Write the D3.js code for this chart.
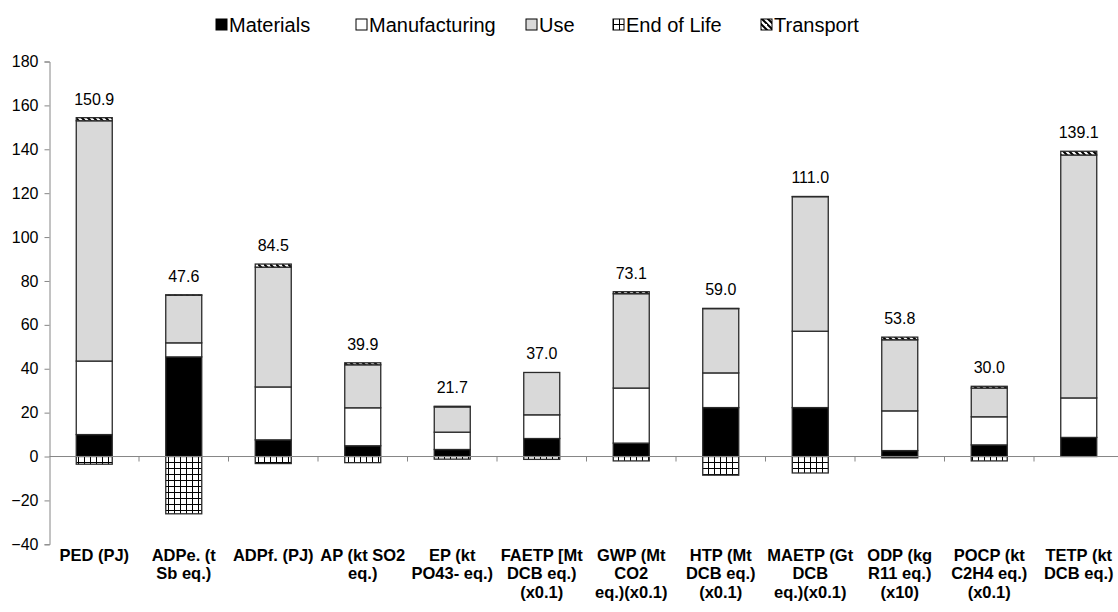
<!DOCTYPE html>
<html>
<head>
<meta charset="utf-8">
<script src="https://cdn.jsdelivr.net/npm/d3@7"></script>
<style>
  html, body { margin: 0; padding: 0; background: #fff; }
  svg { display: block; font-family: Arial, "Liberation Sans", sans-serif; }
</style>
</head>
<body>
<svg id="chart" width="1118" height="612"></svg>
<script>
// Impact categories (multi-line axis labels)
const categories = [
  ["PED (PJ)"],
  ["ADPe. (t", "Sb eq.)"],
  ["ADPf. (PJ)"],
  ["AP (kt SO2", "eq.)"],
  ["EP (kt", "PO43- eq.)"],
  ["FAETP [Mt", "DCB eq.)", "(x0.1)"],
  ["GWP (Mt", "CO2", "eq.)(x0.1)"],
  ["HTP (Mt", "DCB eq.)", "(x0.1)"],
  ["MAETP (Gt", "DCB", "eq.)(x0.1)"],
  ["ODP (kg", "R11 eq.)", "(x10)"],
  ["POCP (kt", "C2H4 eq.)", "(x0.1)"],
  ["TETP (kt", "DCB eq.)"]
];

// Life-cycle stage contributions per category
const materials     = [10.0, 45.4,  7.6,  4.9,  3.2,  8.2,  6.1, 22.3, 22.3,  2.7,  5.3,   8.7];
const manufacturing = [33.5,  6.4, 24.1, 17.3,  7.9, 10.8, 25.1, 15.8, 34.8, 18.1, 12.8,  18.0];
const use           = [109.5, 21.7, 54.6, 19.6, 11.5, 19.3, 43.0, 29.3, 61.3, 32.4, 13.1, 110.7];
const endOfLife     = [-3.5, -26.1, -3.2, -2.8, -1.2, -1.3, -2.0, -8.5, -7.5, -0.6, -2.0,  0.0];
const transport     = [ 1.4,  0.2,  1.4,  0.9,  0.3,  0.0,  0.9,  0.1,  0.1,  1.2,  0.8,   1.7];

const seriesNames = ["Materials", "Manufacturing", "Use", "End of Life", "Transport"];
const yTicks = [-40, -20, 0, 20, 40, 60, 80, 100, 120, 140, 160, 180];

const rows = categories.map((c, i) => ({
  key: c.join(" "),
  "Materials": materials[i],
  "Manufacturing": manufacturing[i],
  "Use": use[i],
  "End of Life": endOfLife[i],
  "Transport": transport[i]
}));

const svg = d3.select("#chart");
const defs = svg.append("defs");

// End of Life: square grid hatch
const grid = defs.append("pattern")
  .attr("id", "pat-grid").attr("patternUnits", "userSpaceOnUse")
  .attr("width", 6).attr("height", 6);
grid.append("rect").attr("width", 6).attr("height", 6).attr("fill", "#fff");
grid.append("path").attr("d", "M0,0.5H6M0.5,0V6").attr("stroke", "#000").attr("stroke-width", 1);

// Transport: downward diagonal stripes
const diag = defs.append("pattern")
  .attr("id", "pat-diag").attr("patternUnits", "userSpaceOnUse")
  .attr("width", 6).attr("height", 6);
diag.append("rect").attr("width", 6).attr("height", 6).attr("fill", "#fff");
diag.append("path").attr("d", "M-1,-1L7,7M-4,2L2,8M4,-4L10,2")
  .attr("stroke", "#000").attr("stroke-width", 2);

const fills = {
  "Materials": "#000000",
  "Manufacturing": "#ffffff",
  "Use": "#d9d9d9",
  "End of Life": "url(#pat-grid)",
  "Transport": "url(#pat-diag)"
};

const x0 = 49.5, step = 89.5;
const x = d3.scaleBand()
  .domain(rows.map(r => r.key))
  .range([x0, x0 + step * categories.length])
  .paddingInner(0.6).paddingOuter(0.3);

const y = d3.scaleLinear().domain([-40, 180]).range([544.3, 61.5]);

// Y axis
const yAxis = svg.append("g")
  .attr("transform", `translate(${x0},0)`)
  .call(d3.axisLeft(y).tickValues(yTicks).tickSize(5).tickPadding(6).tickFormat(d3.format("d")));
yAxis.select(".domain").attr("stroke", "#868686");
yAxis.selectAll(".tick line").attr("stroke", "#868686");
yAxis.selectAll(".tick text").attr("font-size", 16).attr("fill", "#000")
  .attr("font-family", "Arial, 'Liberation Sans', sans-serif");

// Stacked bars
const stack = d3.stack()
  .keys(["Materials", "Manufacturing", "Use", "End of Life", "Transport"])
  .offset(d3.stackOffsetDiverging);
const stacked = stack(rows);

const bw = 36;
svg.append("g").selectAll("g")
  .data(stacked)
  .join("g")
  .attr("fill", d => fills[d.key])
  .selectAll("rect")
  .data(d => d.filter(s => s[1] !== s[0]))
  .join("rect")
  .attr("x", d => x(d.data.key) + x.bandwidth() / 2 - bw / 2)
  .attr("width", bw)
  .attr("y", d => y(Math.max(d[0], d[1])))
  .attr("height", d => Math.abs(y(d[0]) - y(d[1])))
  .attr("stroke", "#2a2a2a")
  .attr("stroke-width", 1.3);

// Zero line with category separators
const xAxis = svg.append("g")
  .attr("transform", `translate(0,${y(0)})`);
xAxis.append("line")
  .attr("x1", x0).attr("x2", x0 + step * categories.length)
  .attr("stroke", "#868686").attr("stroke-width", 1);
xAxis.selectAll(".sep")
  .data(d3.range(1, categories.length + 1))
  .join("line")
  .attr("x1", i => x0 + i * step).attr("x2", i => x0 + i * step)
  .attr("y1", 0).attr("y2", 5)
  .attr("stroke", "#868686");

// Net totals above each bar
svg.append("g").selectAll("text")
  .data(rows)
  .join("text")
  .attr("x", d => x(d.key) + x.bandwidth() / 2)
  .attr("y", d => y(d["Materials"] + d["Manufacturing"] + d["Use"] + d["Transport"]) - 13)
  .attr("text-anchor", "middle")
  .attr("font-size", 16)
  .attr("fill", "#000")
  .text(d => d3.format(".1f")(
    d["Materials"] + d["Manufacturing"] + d["Use"] + d["End of Life"] + d["Transport"]));

// Category labels
const catG = svg.append("g").selectAll("text")
  .data(rows.map((r, i) => ({ key: r.key, lines: categories[i] })))
  .join("text")
  .attr("x", d => x(d.key) + x.bandwidth() / 2)
  .attr("y", 561)
  .attr("text-anchor", "middle")
  .attr("font-size", 16.5)
  .attr("font-weight", "bold")
  .attr("fill", "#000");
catG.selectAll("tspan")
  .data(d => d.lines.map(l => ({ l, x: x(d.key) + x.bandwidth() / 2 })))
  .join("tspan")
  .attr("x", d => d.x)
  .attr("dy", (d, i) => i === 0 ? 0 : 18.3)
  .text(d => d.l);

// Legend
const legendX = [216, 356, 526, 613, 761];
const legend = svg.append("g").selectAll("g")
  .data(seriesNames)
  .join("g")
  .attr("transform", (d, i) => `translate(${legendX[i]},0)`);
legend.append("rect")
  .attr("x", 0).attr("y", 19).attr("width", 11).attr("height", 11)
  .attr("fill", d => fills[d])
  .attr("stroke", "#000").attr("stroke-width", 1);
legend.append("text")
  .attr("x", 13).attr("y", 32)
  .attr("font-size", 20)
  .attr("fill", "#000")
  .text(d => d);
</script>
</body>
</html>
